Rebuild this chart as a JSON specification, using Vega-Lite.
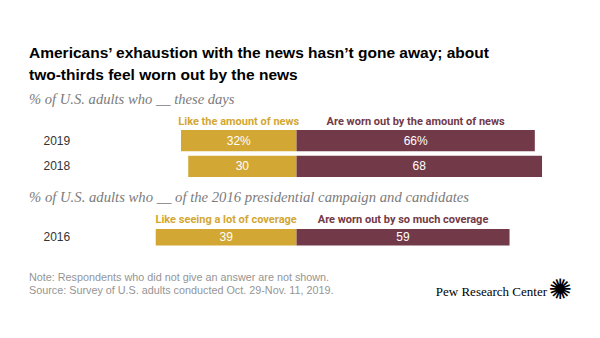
{
  "$schema": "https://vega.github.io/schema/vega-lite/v6.json",
  "background": "white",
  "padding": {"left": 29, "right": 28, "top": 46, "bottom": 10},
  "config": {"view": {"stroke": null}},
  "title": {
    "text": ["Americans’ exhaustion with the news hasn’t gone away; about", "two-thirds feel worn out by the news"],
    "anchor": "start",
    "frame": "group",
    "font": "Liberation Sans",
    "fontSize": 15.5,
    "fontWeight": "bold",
    "color": "#000000",
    "lineHeight": 22,
    "offset": 8
  },
  "bounds": "flush",
  "spacing": 0,
  "vconcat": [
    {
      "width": 543,
      "height": 98.3,
      "title": {
        "text": "% of U.S. adults who __ these days",
        "anchor": "start",
        "frame": "group",
        "font": "Liberation Serif",
        "fontSize": 14.6,
        "fontStyle": "italic",
        "fontWeight": "normal",
        "color": "#7b7b7b",
        "baseline": "alphabetic",
        "offset": -2
      },
      "data": {"values": [
        {"year": "2019", "resp": "like", "value": 32, "signed": -32, "label": "32%", "head": "Like the amount of news"},
        {"year": "2019", "resp": "worn", "value": 66, "signed": 66, "label": "66%", "head": "Are worn out by the amount of news"},
        {"year": "2018", "resp": "like", "value": 30, "signed": -30, "label": "30"},
        {"year": "2018", "resp": "worn", "value": 68, "signed": 68, "label": "68"}
      ]},
      "encoding": {
        "y": {
          "field": "year", "type": "nominal", "sort": ["2019", "2018"],
          "scale": {"paddingInner": 0.17, "paddingOuter": 1.5425, "align": 0},
          "axis": {"title": null, "domain": false, "ticks": false, "labelAlign": "left", "labelPadding": -14, "labelFont": "Liberation Sans", "labelFontSize": 12, "labelColor": "#333333"}
        }
      },
      "layer": [
        {
          "mark": {"type": "bar"},
          "encoding": {
            "x": {"field": "signed", "type": "quantitative", "stack": null, "scale": {"domain": [-74.1, 76.3], "nice": false}, "axis": null},
            "color": {"field": "resp", "type": "nominal", "scale": {"domain": ["like", "worn"], "range": ["#d3a733", "#723a48"]}, "legend": null}
          }
        },
        {
          "mark": {"type": "text", "color": "white", "font": "Liberation Sans", "fontSize": 12, "baseline": "middle"},
          "encoding": {
            "x": {"field": "signed", "type": "quantitative", "scale": {"domain": [-148.2, 152.6], "nice": false}, "axis": null},
            "text": {"field": "label"}
          }
        },
        {
          "transform": [{"filter": "isValid(datum.head)"}],
          "mark": {"type": "text", "font": "Roboto", "fontWeight": "bold", "fontSize": 11, "baseline": "alphabetic", "dy": -15.5},
          "encoding": {
            "x": {"field": "signed", "type": "quantitative", "scale": {"domain": [-148.2, 152.6], "nice": false}, "axis": null},
            "text": {"field": "head"},
            "color": {"field": "resp", "type": "nominal", "scale": {"domain": ["like", "worn"], "range": ["#d3a733", "#723a48"]}, "legend": null}
          }
        }
      ],
      "resolve": {"scale": {"x": "independent"}}
    },
    {
      "width": 543,
      "height": 52,
      "title": {
        "text": "% of U.S. adults who __ of the 2016 presidential campaign and candidates",
        "anchor": "start",
        "frame": "group",
        "font": "Liberation Serif",
        "fontSize": 14.7,
        "fontStyle": "italic",
        "fontWeight": "normal",
        "color": "#7b7b7b",
        "baseline": "alphabetic",
        "offset": -2
      },
      "data": {"values": [
        {"year": "2016", "resp": "like", "value": 39, "signed": -39, "label": "39", "head": "Like seeing a lot of coverage"},
        {"year": "2016", "resp": "worn", "value": 59, "signed": 59, "label": "59", "head": "Are worn out by so much coverage"}
      ]},
      "encoding": {
        "y": {
          "field": "year", "type": "nominal",
          "scale": {"paddingInner": 0.17, "paddingOuter": 0.885, "align": 0},
          "axis": {"title": null, "domain": false, "ticks": false, "labelAlign": "left", "labelPadding": -14, "labelFont": "Liberation Sans", "labelFontSize": 12, "labelColor": "#333333"}
        }
      },
      "layer": [
        {
          "mark": {"type": "bar"},
          "encoding": {
            "x": {"field": "signed", "type": "quantitative", "stack": null, "scale": {"domain": [-74.1, 76.3], "nice": false}, "axis": null},
            "color": {"field": "resp", "type": "nominal", "scale": {"domain": ["like", "worn"], "range": ["#d3a733", "#723a48"]}, "legend": null}
          }
        },
        {
          "mark": {"type": "text", "color": "white", "font": "Liberation Sans", "fontSize": 12, "baseline": "middle"},
          "encoding": {
            "x": {"field": "signed", "type": "quantitative", "scale": {"domain": [-148.2, 152.6], "nice": false}, "axis": null},
            "text": {"field": "label"}
          }
        },
        {
          "transform": [{"filter": "isValid(datum.head)"}],
          "mark": {"type": "text", "font": "Roboto", "fontWeight": "bold", "fontSize": 11, "baseline": "alphabetic", "dy": -14},
          "encoding": {
            "x": {"field": "signed", "type": "quantitative", "scale": {"domain": [-148.2, 152.6], "nice": false}, "axis": null},
            "text": {"field": "head"},
            "color": {"field": "resp", "type": "nominal", "scale": {"domain": ["like", "worn"], "range": ["#d3a733", "#723a48"]}, "legend": null}
          }
        }
      ],
      "resolve": {"scale": {"x": "independent"}}
    },
    {
      "width": 543,
      "height": 13,
      "data": {"values": [
        {"side": "left", "row": "Note", "kind": "note", "txt": "Note: Respondents who did not give an answer are not shown."},
        {"side": "left", "row": "Source", "kind": "note", "txt": "Source: Survey of U.S. adults conducted Oct. 29-Nov. 11, 2019."},
        {"side": "right", "row": "Source", "kind": "brand", "txt": "Pew Research Center"},
        {"side": "right", "row": "Source", "kind": "logo", "txt": "✺"}
      ]},
      "encoding": {
        "x": {"field": "side", "type": "nominal", "scale": {"type": "point", "domain": ["left", "right"], "padding": 0}, "axis": null},
        "y": {"field": "row", "type": "nominal", "scale": {"type": "point", "domain": ["Note", "Source"], "padding": 0}, "axis": null},
        "text": {"field": "txt"}
      },
      "layer": [
        {
          "transform": [{"filter": "datum.kind === 'note'"}],
          "mark": {"type": "text", "align": "left", "baseline": "alphabetic", "font": "Liberation Sans", "fontSize": 10.8, "color": "#959595"}
        },
        {
          "transform": [{"filter": "datum.kind === 'brand'"}],
          "mark": {"type": "text", "align": "right", "baseline": "alphabetic", "dx": -25, "dy": 2, "font": "Liberation Serif", "fontSize": 13, "color": "#000000"}
        },
        {
          "transform": [{"filter": "datum.kind === 'logo'"}],
          "mark": {"type": "text", "align": "right", "baseline": "middle", "dy": -3, "font": "DejaVu Sans", "fontSize": 28, "color": "#000000"}
        }
      ]
    }
  ]
}
